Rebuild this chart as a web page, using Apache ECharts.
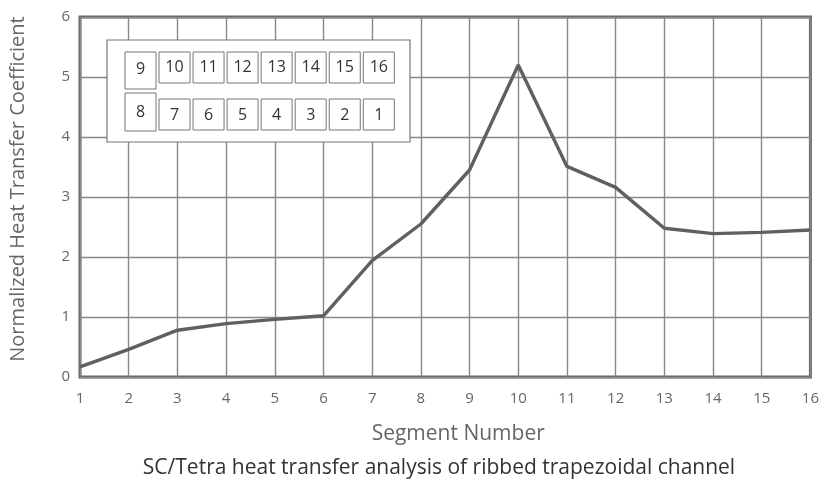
<!DOCTYPE html>
<html><head><meta charset="utf-8">
<script src="https://cdn.jsdelivr.net/npm/echarts@6/dist/echarts.min.js"></script>
<style>html,body{margin:0;padding:0;background:#fff}#c{width:822px;height:484px}</style>
</head><body><div id="c"></div>
<script>
const segments = [1,2,3,4,5,6,7,8,9,10,11,12,13,14,15,16];
const htc = [0.17,0.46,0.78,0.89,0.96,1.02,1.94,2.55,3.45,5.2,3.51,3.16,2.48,2.39,2.41,2.45];
const yTicks = [0,1,2,3,4,5,6];
const insetTop = ['10','11','12','13','14','15','16'];
const insetBottom = ['7','6','5','4','3','2','1'];
const insetLeftTop = '9', insetLeftBottom = '8';
const titleText = 'SC/Tetra heat transfer analysis of ribbed trapezoidal channel';
const xName = 'Segment Number';
const yName = 'Normalized Heat Transfer Coefficient';

const FONT = 'Open Sans';
const chart = echarts.init(document.getElementById('c'));

const g = [];
g.push({type:'rect', x:107, y:40, shape:{x:0,y:0,width:303, height:102}, style:{fill:'#fff', stroke:'#777', lineWidth:1.2}, z:10});
function cellText(cx,cy,t){
  g.push({type:'text', x:cx, y:cy, style:{text:t, align:'center', verticalAlign:'middle', font:'16px "Open Sans"', fill:'#333'}, z:12});
}
function box(x,y,w,h){
  g.push({type:'rect', x:x, y:y, shape:{x:0,y:0,width:w,height:h}, style:{fill:'#fff', stroke:'#777', lineWidth:1}, z:11});
}
box(125,52,31,37); cellText(140.5,69,insetLeftTop);
box(125,93,31,38); cellText(140.5,112,insetLeftBottom);
insetTop.forEach((t,i)=>{ const x=159+i*34.05; box(x,52,31,31); cellText(x+15.5,67.5,t); });
insetBottom.forEach((t,i)=>{ const x=159+i*34.05; box(x,99,31,31); cellText(x+15.5,115,t); });

chart.setOption({
  animation:false,
  backgroundColor:'#fff',
  title:{text:titleText, left:434, top:453, textAlign:'center', textStyle:{fontFamily:FONT, fontSize:21, fontWeight:'normal', color:'#333'}},
  grid:{left:77, right:10, top:17, bottom:107, show:true, borderColor:'#666', borderWidth:3, backgroundColor:'transparent'},
  xAxis:{type:'value', min:1, max:16, interval:1,
    name:xName, nameLocation:'middle', nameGap:57, nameTextStyle:{fontFamily:FONT, fontSize:21, color:'#666', verticalAlign:'middle', padding:[0,0,0,26]},
    axisLine:{show:false}, axisTick:{show:false},
    axisLabel:{margin:14, fontFamily:FONT, fontSize:15, color:'#666'},
    splitLine:{show:true, lineStyle:{color:'#888', width:1.4}}},
  yAxis:{type:'value', min:0, max:6, interval:1,
    name:yName, nameLocation:'middle', nameGap:62, nameTextStyle:{fontFamily:FONT, fontSize:20, color:'#666', verticalAlign:'middle', padding:[0,0,0,16]},
    axisLine:{show:false}, axisTick:{show:false},
    axisLabel:{margin:10, fontFamily:FONT, fontSize:15, color:'#666', formatter:v=>yTicks.includes(v)?String(v):''},
    splitLine:{show:true, lineStyle:{color:'#888', width:1.4}}},
  series:[{type:'line', data:segments.map((s,i)=>[s,htc[i]]), showSymbol:false, lineStyle:{color:'#606060', width:3.4}, z:5}],
  graphic:g
});
</script></body></html>
